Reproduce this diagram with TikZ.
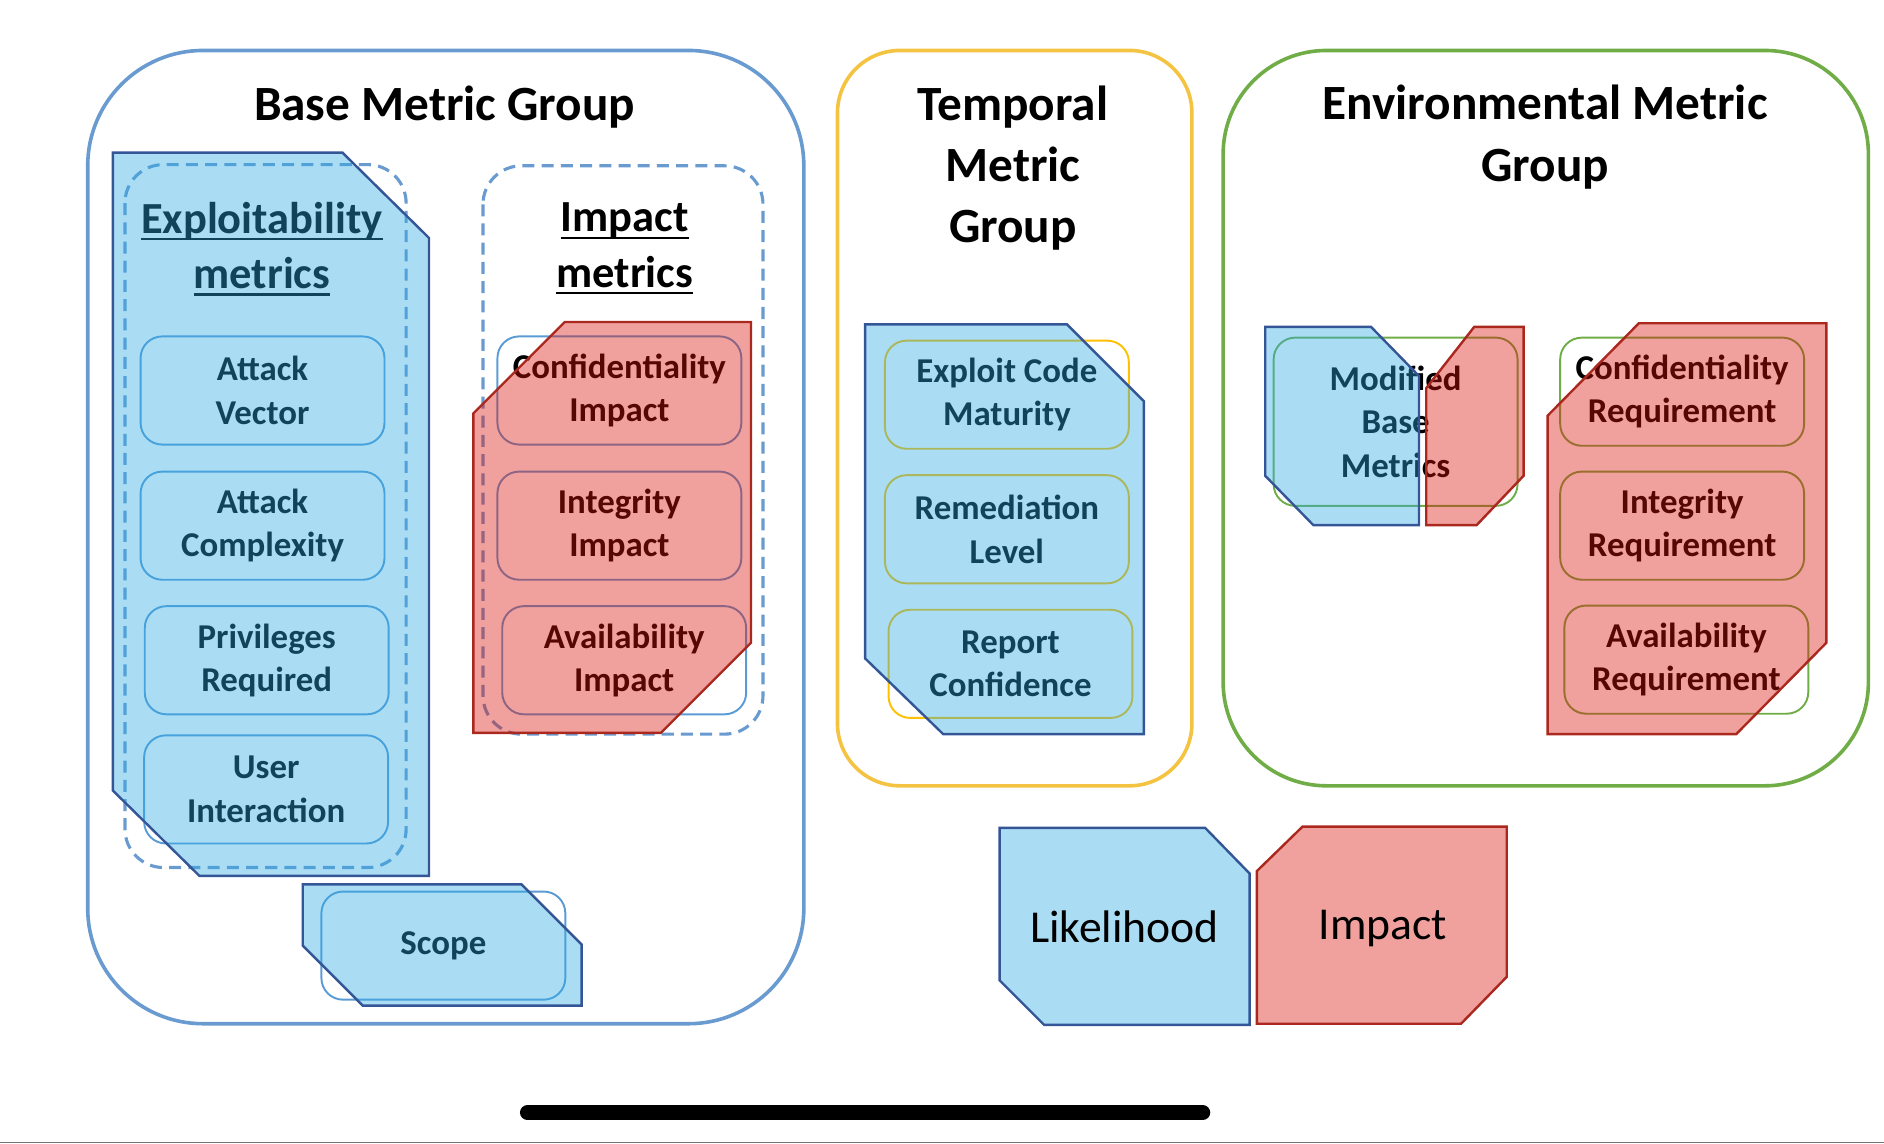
\documentclass[tikz,border=0pt]{standalone}
\usepackage{fontspec}
\setmainfont{Carlito}
\usetikzlibrary{calc}
\definecolor{grpblue}{RGB}{106,155,208}
\definecolor{grpgold}{RGB}{245,195,66}
\definecolor{grpgreen}{RGB}{112,173,71}
\definecolor{boxblue}{RGB}{91,155,213}
\definecolor{boxgold}{RGB}{255,192,0}
\definecolor{boxgreen}{RGB}{112,173,71}
\definecolor{likefill}{RGB}{43,170,228}
\definecolor{likedraw}{RGB}{52,85,150}
\definecolor{impfill}{RGB}{217,18,10}
\definecolor{impdraw}{RGB}{170,40,30}
\newcommand{\ultext}[1]{\setbox0\hbox{#1}\rlap{\rule[-3pt]{\wd0}{1pt}}\box0}
\tikzstyle{group} = [draw, line width=1.5pt]
\tikzstyle{subgroup} = [draw=grpblue, line width=1.3pt, dash pattern=on 5pt off 3pt, rounded corners=16pt]
\tikzstyle{heading} = [align=center, font=\fontsize{20.5}{25.5}\selectfont\bfseries]
\tikzstyle{subheading} = [align=center, font=\fontsize{18.5}{23}\selectfont\bfseries]
\tikzstyle{metric} = [draw, line width=0.8pt, rounded corners=9pt, minimum width=101.5pt, minimum height=45pt, align=center, font=\fontsize{14.5}{18}\selectfont\bfseries]
\tikzstyle{basebox} = [metric, draw=boxblue]
\tikzstyle{tempbox} = [metric, draw=boxgold]
\tikzstyle{envbox} = [metric, draw=boxgreen]
\tikzstyle{likelyfill} = [draw=likedraw, line width=1pt, fill=likefill, fill opacity=0.4]
\tikzstyle{impactfill} = [draw=impdraw, line width=1pt, fill=impfill, fill opacity=0.4]
\tikzstyle{legend} = [font=\fontsize{19}{23}\selectfont]

\begin{document}
\begin{tikzpicture}[x=0.5pt, y=-0.5pt]
        \useasboundingbox (0,0) rectangle (1568,952);
        \draw[group, grpblue, rounded corners=48pt] (73,42) rectangle (669,852);
        \draw[group, grpgold, rounded corners=26pt] (697,42) rectangle (992,654);
        \draw[group, grpgreen, rounded corners=43pt] (1018,42) rectangle (1555,654);
        \node[heading] (basetitle) at (370,89) {Base Metric Group};
        \node[heading] (temptitle) at (843,140) {Temporal\\Metric\\Group};
        \node[heading] (envtitle) at (1286,114) {Environmental Metric\\Group};
        \draw[subgroup] (104,137) rectangle (338,722);
        \draw[subgroup] (402,138) rectangle (635,611);
        \node[subheading] (exptitle) at (218,207) {\ultext{Exploitability}\\\ultext{metrics}};
        \node[subheading] (imptitle) at (520,207) {\ultext{Impact}\\\ultext{metrics}};
        \node[basebox] (av) at (218.5,325) {Attack\\Vector};
        \node[basebox] (ac) at (218.5,437.5) {Attack\\Complexity};
        \node[basebox] (pr) at (222,549.5) {Privileges\\Required};
        \node[basebox] (ui) at (221.5,657) {User\\Interaction};
        \node[basebox] (scope) at (369,787) {Scope};
        \node[basebox] (ci) at (515.5,325) {Confidentiality\\Impact};
        \node[basebox] (ii) at (515.5,437.5) {Integrity\\Impact};
        \node[basebox] (ai) at (519.5,549.5) {Availability\\Impact};
        \node[tempbox] (ecm) at (838,328.5) {Exploit Code\\Maturity};
        \node[tempbox] (rl) at (838,440.5) {Remediation\\Level};
        \node[tempbox] (rc) at (841,552.5) {Report\\Confidence};
        \node[envbox, minimum height=70pt] (mbm) at (1161.5,351) {Modified\\Base\\Metrics};
        \node[envbox] (cr) at (1400,326) {Confidentiality\\Requirement};
        \node[envbox] (ir) at (1400,437.5) {Integrity\\Requirement};
        \node[envbox] (ar) at (1403.5,549) {Availability\\Requirement};
        \draw[likelyfill] (94,127) -- (285,127) -- (357,198) -- (357,729) -- (166,729) -- (94,658) -- cycle;
        \draw[impactfill] (394,344) -- (470,268) -- (625,268) -- (625,535) -- (550,610) -- (394,610) -- cycle;
        \draw[likelyfill] (252,736) -- (434,736) -- (484,786) -- (484,837) -- (302,837) -- (252,787) -- cycle;
        \draw[likelyfill] (720,270) -- (888,270) -- (952,334) -- (952,611) -- (785,611) -- (720,548) -- cycle;
        \draw[likelyfill] (1053,272) -- (1141,272) -- (1181,313) -- (1181,437) -- (1093,437) -- (1053,396) -- cycle;
        \draw[impactfill] (1187,323) -- (1227,272) -- (1268,272) -- (1268,396) -- (1229,437) -- (1187,437) -- cycle;
        \draw[impactfill] (1288,346) -- (1364,269) -- (1520,269) -- (1520,535) -- (1445,611) -- (1288,611) -- cycle;
        \draw[likelyfill] (832,689) -- (1003,689) -- (1040,727) -- (1040,853) -- (869,853) -- (832,816) -- cycle;
        \draw[impactfill] (1046,725) -- (1084,688) -- (1254,688) -- (1254,813) -- (1216,852) -- (1046,852) -- cycle;
        \node[legend] (likelihood) at (936,771) {Likelihood};
        \node[legend] (implegend) at (1151,773) {Impact};
        \draw[line width=6.25pt, line cap=round] (439,926) -- (1001,926);
        \draw[black!55, line width=0.6pt] (0,951) -- (1568,951);
    \end{tikzpicture}
\end{document}
